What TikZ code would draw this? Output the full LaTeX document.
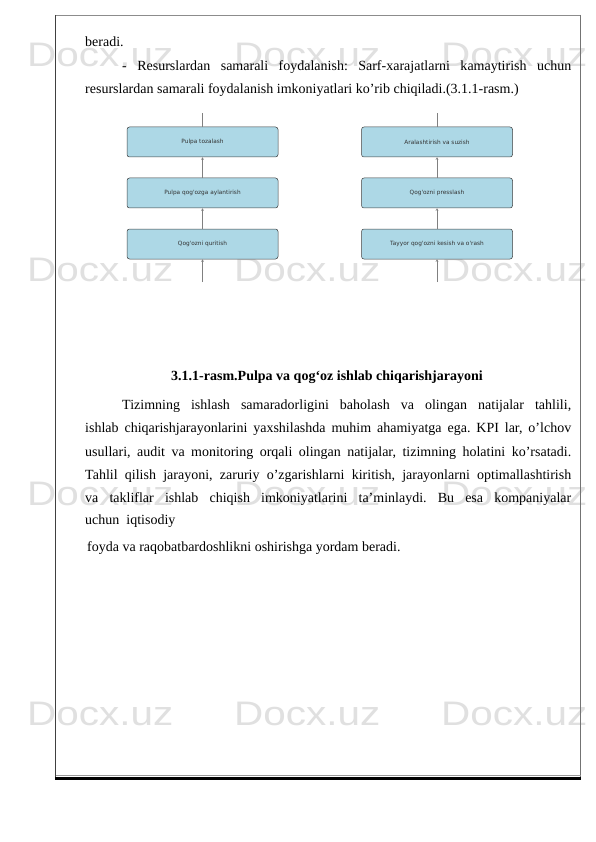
\documentclass[tikz,border=0pt]{standalone}
\usepackage{fontspec}
\setmainfont{Liberation Serif}
\newfontfamily\wmfont{Liberation Sans}
\newfontfamily\boxfont{DejaVu Sans}
\usetikzlibrary{arrows.meta}
\definecolor{boxblue}{HTML}{ADD8E6}
\definecolor{wmgray}{HTML}{E0E0E0}
\frenchspacing
\tikzset{
  wm/.style={anchor=west, inner sep=0pt, text=wmgray, font=\wmfont\fontsize{34}{34}\selectfont},
  txt/.style={anchor=base west, inner sep=0pt, font=\fontsize{14}{16}\selectfont},
  stepbox/.style={draw=black!75, line width=0.5pt, fill=boxblue, rounded corners=2.5pt,
    minimum width=151pt, minimum height=30pt, inner sep=0pt, text=black!80,
    font=\boxfont\fontsize{5.8}{7}\selectfont},
  link/.style={draw=black!50, line width=0.6pt},
  uparrow/.style={link, -{Stealth[length=2.5pt,width=2.5pt]}},
}
\newcommand{\wmrow}[1]{%
  \node[wm] (wma#1) at (27,#1) {\scalebox{1.19}[1]{Docx.uz}};
  \node[wm] (wmb#1) at (234,#1) {\scalebox{1.19}[1]{Docx.uz}};
  \node[wm] (wmc#1) at (441,#1) {\scalebox{1.19}[1]{Docx.uz}};
}
\begin{document}
\begin{tikzpicture}[x=1pt,y=-1pt]
\useasboundingbox (0,0) rectangle (595,842);
\fill[white] (0,0) rectangle (595,842);
% watermark
\wmrow{55}
\wmrow{270}
\wmrow{494}
\wmrow{714}
% page frame
\draw[black!45, line width=0.8pt] (55.5,15) -- (580.5,15);
\draw[black!75, line width=1pt] (55.5,15) -- (55.5,778);
\draw[black!55, line width=1pt] (580.5,15) -- (580.5,778);
\draw[black!40, line width=0.8pt] (55.5,775.5) -- (580.5,775.5);
\draw[black, line width=2.2pt] (55,778.5) -- (581,778.5);
% top text
\node[txt] (t1) at (85,47) {beradi.};
\node[txt] (t2) at (122,71) {\makebox[449pt][s]{- Resurslardan samarali foydalanish: Sarf-xarajatlarni kamaytirish uchun}};
\node[txt] (t3) at (85,94) {resurslardan samarali foydalanish imkoniyatlari ko'rib chiqiladi.(3.1.1-rasm.)};
% left flow
\node[stepbox] (l1) at (202.5,142) {Pulpa tozalash};
\node[stepbox] (l2) at (202.5,193) {Pulpa qog'ozga aylantirish};
\node[stepbox] (l3) at (202.5,244) {Qog'ozni quritish};
\coordinate (ltop) at (202.5,113);
\coordinate (lbot) at (202.5,282);
\draw[link] (l1.north) -- (ltop);
\draw[uparrow] (l2.north) -- (l1.south);
\draw[uparrow] (l3.north) -- (l2.south);
\draw[uparrow] (lbot) -- (l3.south);
% right flow
\node[stepbox] (r1) at (437,142) {Aralashtirish va suzish};
\node[stepbox] (r2) at (437,193) {Qog'ozni presslash};
\node[stepbox] (r3) at (437,244) {Tayyor qog'ozni kesish va o'rash};
\coordinate (rtop) at (437,113);
\coordinate (rbot) at (437,282);
\draw[link] (r1.north) -- (rtop);
\draw[uparrow] (r2.north) -- (r1.south);
\draw[uparrow] (r3.north) -- (r2.south);
\draw[uparrow] (rbot) -- (r3.south);
% caption
\node[anchor=base, inner sep=0pt, font=\fontsize{14}{16}\selectfont\bfseries] (cap) at (327,380) {3.1.1-rasm.Pulpa va qog`oz ishlab chiqarishjarayoni};
% paragraph
\node[txt] (p1) at (122,409) {\makebox[449pt][s]{Tizimning ishlash samaradorligini baholash va olingan natijalar tahlili,}};
\node[txt] (p2) at (85,432) {\makebox[486pt][s]{ishlab chiqarishjarayonlarini yaxshilashda muhim ahamiyatga ega. KPI lar, o'lchov}};
\node[txt] (p3) at (85,456) {\makebox[486pt][s]{usullari, audit va monitoring orqali olingan natijalar, tizimning holatini ko'rsatadi.}};
\node[txt] (p4) at (85,479) {\makebox[486pt][s]{Tahlil qilish jarayoni, zaruriy o'zgarishlarni kiritish, jarayonlarni optimallashtirish}};
\node[txt] (p5) at (85,502) {\makebox[486pt][s]{va takliflar ishlab chiqish imkoniyatlarini ta'minlaydi. Bu esa kompaniyalar}};
\node[txt] (p6) at (85,524) {uchun\ \ iqtisodiy};
\node[txt] (p7) at (87,551) {foyda va raqobatbardoshlikni oshirishga yordam beradi.};
\end{tikzpicture}
\end{document}
